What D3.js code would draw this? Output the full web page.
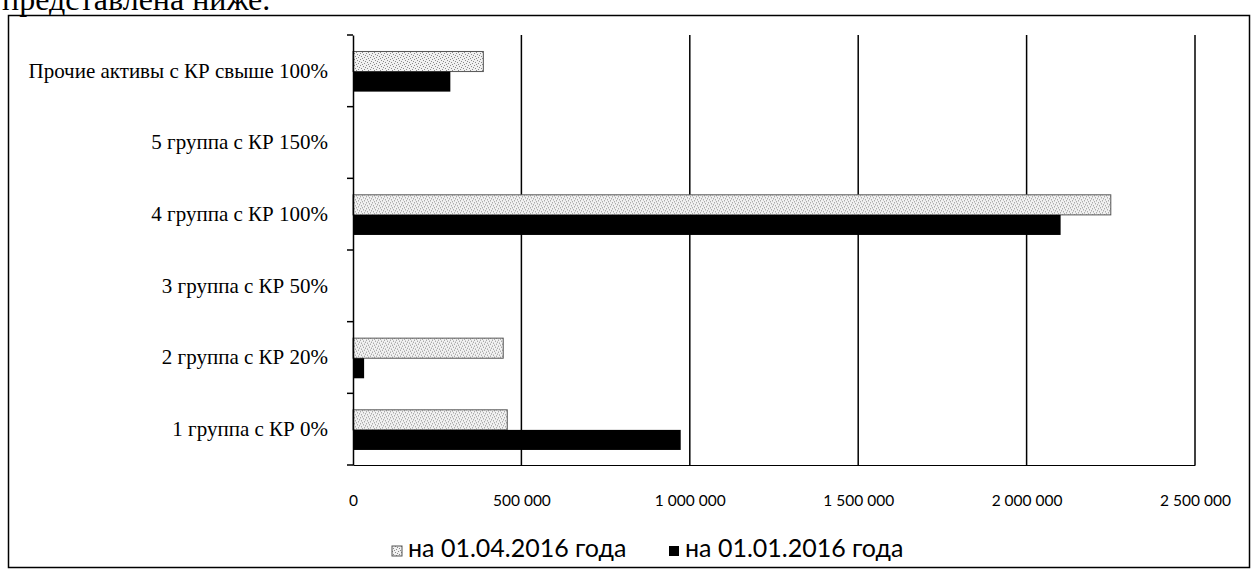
<!DOCTYPE html>
<html>
<head>
<meta charset="utf-8">
<script src="https://cdn.jsdelivr.net/npm/d3@7"></script>
<style>
  body { margin: 0; background: #fff; }
  svg { display: block; }
</style>
</head>
<body>
<div id="chart"></div>
<script>
// categories top to bottom, as in the picture
const categories = [
    "Прочие активы с КР свыше 100%",
    "5 группа с КР 150%",
    "4 группа с КР 100%",
    "3 группа с КР 50%",
    "2 группа с КР 20%",
    "1 группа с КР 0%"
];
const seriesNames = ["на 01.04.2016 года", "на 01.01.2016 года"];
const valuesApr = [387000, 0, 2250000, 0, 446000, 458000];
const valuesJan = [289000, 0, 2101000, 0, 33000, 973000];
const xTicks = [0, 500000, 1000000, 1500000, 2000000, 2500000];

const W = 1259, H = 576;
const margin = { top: 35, left: 353, right: 64, bottom: 111 };

const svg = d3.select("#chart").append("svg")
    .attr("width", W).attr("height", H);

// speckled fill for the grey series
const defs = svg.append("defs");
const pat = defs.append("pattern")
    .attr("id", "speckle")
    .attr("patternUnits", "userSpaceOnUse")
    .attr("width", 6).attr("height", 6);
pat.append("rect").attr("width", 6).attr("height", 6).attr("fill", "#f1f1f1");
[[0, 0], [3, 1], [1, 3], [4, 4], [2, 5], [5, 2]].forEach(p => {
    pat.append("rect").attr("x", p[0]).attr("y", p[1])
        .attr("width", 1).attr("height", 1).attr("fill", "#8a8a8a");
});

// heading text cut by the top edge
svg.append("text")
    .attr("x", 2).attr("y", 10)
    .attr("font-family", "Liberation Serif, serif")
    .attr("font-size", 32)
    .text("представлена ниже.");

// outer frame
svg.append("rect")
    .attr("x", 8.5).attr("y", 15.5)
    .attr("width", 1241).attr("height", 552)
    .attr("fill", "none").attr("stroke", "#000").attr("stroke-width", 1.5);

const x = d3.scaleLinear()
    .domain([0, 2500000])
    .range([margin.left, W - margin.right]);

const y0 = d3.scaleBand()
    .domain(categories)
    .range([margin.top, H - margin.bottom]);

const y1 = d3.scaleBand()
    .domain(seriesNames)
    .range([y0.bandwidth() * 0.23, y0.bandwidth() * 0.79]);

const ruLocale = d3.formatLocale({ decimal: ",", thousands: " ", grouping: [3], currency: ["", ""] });
const fmt = ruLocale.format(",d");

// vertical gridlines
svg.append("g").selectAll("line")
    .data(xTicks.slice(1))
    .join("line")
    .attr("x1", d => x(d)).attr("x2", d => x(d))
    .attr("y1", margin.top).attr("y2", H - margin.bottom)
    .attr("stroke", "#000").attr("stroke-width", 1.5);

// bars
const rows = categories.map((c, i) => ({ cat: c, vals: [valuesApr[i], valuesJan[i]] }));
const groups = svg.append("g").selectAll("g")
    .data(rows)
    .join("g")
    .attr("transform", d => `translate(0,${y0(d.cat)})`);

groups.selectAll("rect")
    .data(d => d.vals.map((v, k) => ({ s: seriesNames[k], v: v })).filter(e => e.v > 0))
    .join("rect")
    .attr("x", x(0))
    .attr("y", d => y1(d.s))
    .attr("width", d => x(d.v) - x(0))
    .attr("height", y1.bandwidth())
    .attr("fill", d => d.s === seriesNames[0] ? "url(#speckle)" : "#000")
    .attr("stroke", d => d.s === seriesNames[0] ? "#555" : "none")
    .attr("stroke-width", 1);

// y axis with category labels
const yAxis = svg.append("g")
    .attr("transform", `translate(${margin.left},0)`)
    .call(d3.axisLeft(y0).tickSize(0).tickPadding(25));
yAxis.select(".domain").attr("stroke", "#000").attr("stroke-width", 1.5);
yAxis.selectAll("text")
    .attr("font-family", "Liberation Serif, serif")
    .attr("font-size", 21)
    .attr("fill", "#000");
// small tick marks on band boundaries
svg.append("g").selectAll("line")
    .data(categories.concat(["end"]))
    .join("line")
    .attr("x1", margin.left - 6).attr("x2", margin.left)
    .attr("y1", (d, i) => margin.top + i * y0.step())
    .attr("y2", (d, i) => margin.top + i * y0.step())
    .attr("stroke", "#000").attr("stroke-width", 1.5);

// x axis
const xAxis = svg.append("g")
    .attr("transform", `translate(0,${H - margin.bottom})`)
    .call(d3.axisBottom(x).tickValues(xTicks).tickSize(0).tickPadding(30).tickFormat(fmt));
xAxis.select(".domain").attr("stroke", "#000").attr("stroke-width", 1);
xAxis.selectAll("text")
    .attr("font-family", "Lato, 'Open Sans', sans-serif")
    .attr("font-size", 15.5)
    .attr("fill", "#000");

// legend
const legend = svg.append("g").attr("transform", "translate(392,557)");
const legX = [0, 277];
seriesNames.forEach((s, k) => {
    const g = legend.append("g").attr("transform", `translate(${legX[k]},0)`);
    g.append("rect")
        .attr("x", 0).attr("y", -11)
        .attr("width", 10).attr("height", 10)
        .attr("fill", k === 0 ? "url(#speckle)" : "#000")
        .attr("stroke", k === 0 ? "#555" : "none");
    g.append("text")
        .attr("x", 16).attr("y", 0)
        .attr("font-family", "Lato, 'Open Sans', sans-serif")
        .attr("font-size", 25)
        .text(s);
});
</script>
</body>
</html>
